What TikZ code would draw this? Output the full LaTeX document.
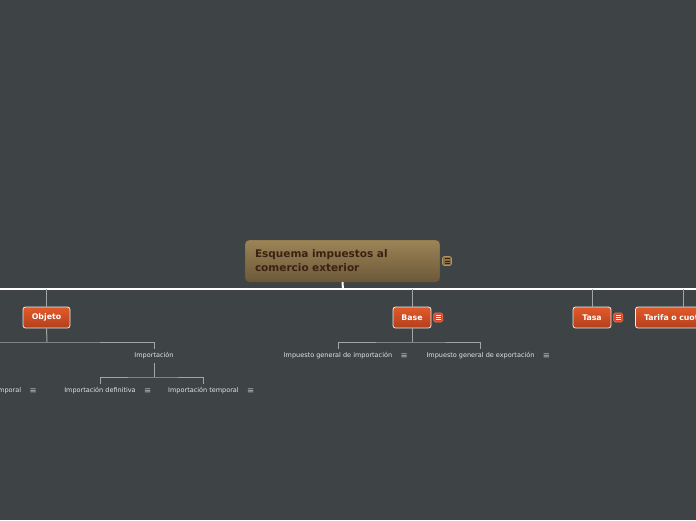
\documentclass[tikz,border=0pt]{standalone}
\usepackage{fontspec}
\setmainfont{DejaVu Sans}
\usetikzlibrary{positioning}

\definecolor{bgcol}{HTML}{3E4445}
\definecolor{rootTop}{HTML}{9C8456}
\definecolor{rootBot}{HTML}{6C583A}
\definecolor{rootInk}{HTML}{3A2212}
\definecolor{rootNote}{HTML}{8C7048}
\definecolor{rootNoteRim}{HTML}{B0945E}
\definecolor{topicTop}{HTML}{E35A2A}
\definecolor{topicBot}{HTML}{B33F1D}
\definecolor{topicNote}{HTML}{D9462A}
\definecolor{topicNoteRim}{HTML}{F27352}
\definecolor{linkGrey}{HTML}{A4A6A6}
\definecolor{subInk}{HTML}{E4E4E4}

\begin{document}
\begin{tikzpicture}[x=1pt,y=-1pt,
    root/.style={rounded corners=4pt, top color=rootTop, bottom color=rootBot, draw=rootBot!80!black,
        text=rootInk, font=\fontsize{10.5}{14}\selectfont\bfseries,
        minimum width=195pt, minimum height=42pt, text width=175pt, align=left, inner sep=0pt},
    topic/.style={rounded corners=2.5pt, top color=topicTop, bottom color=topicBot, draw=white!92!black,
        line width=.8pt, text=white, font=\fontsize{7.8}{9}\selectfont\bfseries,
        minimum height=21pt, inner sep=0pt},
    sub/.style={text=subInk, font=\fontsize{6.5}{8}\selectfont, minimum height=14pt, inner sep=0pt},
    subnote/.style={text=subInk!85!black, font=\fontsize{8.5}{9}\selectfont, inner sep=0pt},
    noteicon/.style={minimum size=9pt, inner sep=0pt, rounded corners=1.5pt, line width=.6pt,
        path picture={\foreach \d in {-2.2,0,2.2}
            \draw[#1, line width=.7pt] ([xshift=2pt,yshift=\d pt]path picture bounding box.west)
                -- ([xshift=-2pt,yshift=\d pt]path picture bounding box.east);}},
    bus/.style={white, line width=1.5pt},
    link/.style={linkGrey, line width=1pt}]

    \path[use as bounding box, fill=bgcol] (0,0) rectangle (696,520);
    \clip (0,0) rectangle (696,520);

    % central topic
    \node[root] (root) at (342.5,261) {Esquema impuestos al\\comercio exterior};
    \node[noteicon=rootInk, fill=rootNote, draw=rootNoteRim, right=2pt of root] (rootnote) {};

    \coordinate (bus) at (343,289);
    \coordinate (busL) at (0,289);
    \coordinate (busR) at (696,289);
    \draw[white, line width=2pt] (root.south) -- (bus);
    \draw[bus] (busL) -- (busR);

    % main topics
    \node[topic, minimum width=47pt] (objeto) at (46.5,317.5) {Objeto};
    \node[topic, minimum width=38pt] (base) at (412,317.5) {Base};
    \node[noteicon=white, fill=topicNote, draw=topicNoteRim, right=2pt of base] (basenote) {};
    \node[topic, minimum width=38pt] (tasa) at (592,317.5) {Tasa};
    \node[noteicon=white, fill=topicNote, draw=topicNoteRim, right=2pt of tasa] (tasanote) {};
    \node[topic, text width=78pt, inner xsep=8.5pt, align=left] (tarifa) at (683,317.5) {Tarifa o cuota};

    \foreach \t in {objeto,base,tasa,tarifa}
        \draw[link] (\t.north) -- (\t.north |- bus);

    % Objeto
    \coordinate (ojfork) at (47,342);
    \node[sub] (expo) at (-60,356) {Exportación};
    \node[sub] (impo) at (154,356) {Importación};
    \draw[link] (objeto.south) -- (ojfork);
    \draw[link] (expo.north) |- (ojfork) -| (impo.north);

    \coordinate (ifork) at (154,377);
    \node[sub] (etemp) at (-14,391) {Exportación temporal};
    \node[subnote, right=8pt of etemp] {≡};
    \node[sub] (idef) at (100,391) {Importación definitiva};
    \node[subnote, right=8pt of idef] {≡};
    \node[sub] (itemp) at (203.5,391) {Importación temporal};
    \node[subnote, right=8pt of itemp] {≡};
    \draw[link] (expo.south) -- (expo.south |- ifork) -| (etemp.north);
    \draw[link] (impo.south) -- (ifork);
    \draw[link] (idef.north) |- (ifork) -| (itemp.north);

    % Base
    \coordinate (bfork) at (412,342);
    \node[sub] (bimp) at (338,356) {Impuesto general de importación};
    \node[subnote, right=8pt of bimp] {≡};
    \node[sub] (bexp) at (480.5,356) {Impuesto general de exportación};
    \node[subnote, right=8pt of bexp] {≡};
    \draw[link] (base.south) -- (bfork);
    \draw[link] (bimp.north) |- (bfork) -| (bexp.north);
\end{tikzpicture}
\end{document}
